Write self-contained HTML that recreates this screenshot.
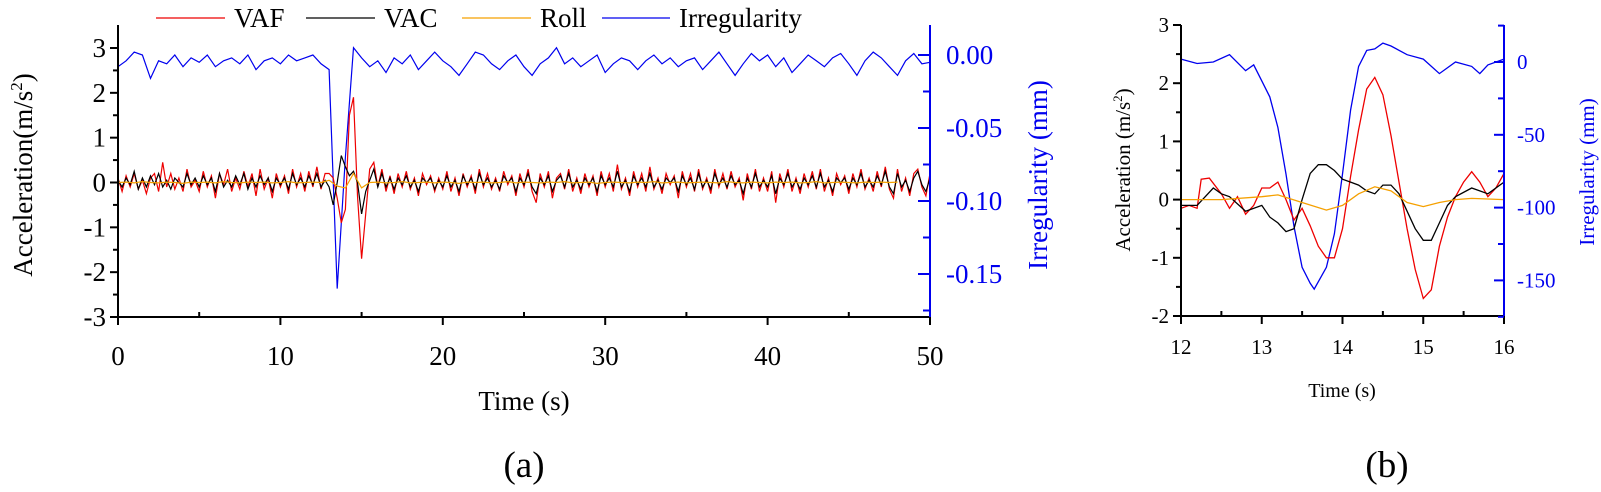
<!DOCTYPE html>
<html><head><meta charset="utf-8"><style>
html,body{margin:0;padding:0;background:#fff;}
svg{display:block;font-family:"Liberation Serif",serif;}
svg text{font-family:"Liberation Serif","Times New Roman",serif;}
</style></head><body>
<svg id="s" width="1601" height="492" viewBox="0 0 1601 492"></svg>
<script>
// ===== Chart (a) data =====
const aTickX=[0,10,20,30,40,50];
const aTickY=[3,2,1,0,-1,-2,-3];
const aTickR=["0.00","-0.05","-0.10","-0.15"];
const aTickRv=[0,-0.05,-0.10,-0.15];
const aVAF=[0.1,-0.2,0.15,-0.1,0.2,-0.15,0.05,-0.25,0.1,0.2,-0.2,0.45,-0.1,0.2,-0.15,0.1,-0.2,0.3,-0.1,0.05,
-0.2,0.25,-0.1,0.15,-0.35,0.2,-0.05,0.3,-0.2,0.1,-0.15,0.25,-0.1,0.2,-0.3,0.3,-0.15,0.1,-0.35,0.2,
-0.1,0.15,-0.25,0.3,-0.1,0.2,-0.2,0.25,-0.1,0.35,-0.15,0.2,
0.2,0.1,-0.35,-0.9,-0.6,1.5,1.9,-0.3,-1.7,-0.7,0.3,
0.45,-0.1,0.3,-0.2,0.15,-0.25,0.2,-0.1,0.25,-0.15,0.1,-0.3,0.2,-0.05,0.15,-0.2,0.1,
-0.15,0.25,-0.2,0.1,-0.3,0.2,-0.1,0.15,-0.25,0.3,-0.1,0.2,-0.15,0.1,-0.2,0.25,-0.05,0.15,-0.3,0.2,
-0.1,0.3,-0.2,-0.45,0.2,-0.1,0.25,-0.35,0.1,0.2,-0.15,0.3,-0.2,0.1,-0.25,0.2,-0.1,0.15,-0.3,0.25,
-0.1,0.2,-0.2,0.4,-0.15,0.1,-0.3,0.25,-0.1,0.2,-0.2,0.35,-0.15,0.1,-0.25,0.2,-0.05,0.15,-0.35,0.25,
-0.1,0.2,-0.2,0.3,-0.15,0.1,-0.25,0.3,-0.1,0.2,-0.15,0.25,-0.1,0.1,-0.4,0.2,-0.15,0.3,-0.2,0.1,
-0.2,0.25,-0.45,0.2,-0.1,0.3,-0.2,0.1,-0.25,0.2,-0.1,0.25,-0.15,0.3,-0.2,0.1,-0.3,0.2,-0.05,0.15,
-0.25,0.2,-0.1,0.3,-0.15,0.1,-0.2,0.25,-0.1,0.35,-0.15,-0.35,0.3,-0.2,0.1,-0.3,0.2,0.3,-0.1,-0.3,0.2];
const aVAC=[0.05,-0.1,0.1,-0.05,0.25,-0.15,0.1,-0.1,0.15,-0.05,0.2,-0.1,0.05,-0.15,0.1,0.0,-0.1,0.2,-0.05,0.1,
-0.1,0.15,-0.05,0.1,-0.2,0.2,-0.1,0.05,-0.1,0.15,-0.05,0.2,-0.15,0.1,-0.1,0.15,-0.05,0.1,-0.2,0.1,
-0.05,0.1,-0.15,0.2,-0.05,0.1,-0.1,0.15,-0.05,0.2,-0.1,0.05,
-0.1,-0.5,0.0,0.6,0.35,0.15,0.25,0.0,-0.7,-0.2,0.05,
0.3,-0.1,0.2,-0.1,0.1,-0.15,0.1,-0.05,0.15,-0.1,0.05,-0.2,0.1,0.0,0.1,-0.15,0.05,
-0.1,0.15,-0.1,0.05,-0.2,0.15,-0.05,0.1,-0.15,0.2,-0.05,0.1,-0.1,0.05,-0.15,0.15,0.0,0.1,-0.2,0.1,
-0.05,0.2,-0.1,-0.25,0.1,-0.05,0.15,-0.2,0.05,0.15,-0.1,0.2,-0.1,0.05,-0.15,0.1,-0.05,0.1,-0.2,0.15,
-0.05,0.1,-0.1,0.25,-0.1,0.05,-0.2,0.15,-0.05,0.1,-0.1,0.2,-0.1,0.05,-0.15,0.1,0.0,0.1,-0.2,0.15,
-0.05,0.1,-0.15,0.2,-0.1,0.05,-0.15,0.2,-0.05,0.1,-0.1,0.15,-0.05,0.05,-0.25,0.1,-0.1,0.2,-0.1,0.05,
-0.1,0.15,-0.25,0.1,-0.05,0.2,-0.1,0.05,-0.15,0.1,-0.05,0.15,-0.1,0.2,-0.1,0.05,-0.2,0.1,0.0,0.1,
-0.15,0.1,-0.05,0.2,-0.1,0.05,-0.1,0.15,-0.05,0.25,-0.1,-0.25,0.2,-0.1,0.05,-0.2,0.1,0.25,-0.05,-0.2,0.1];
const aRoll=[0,0.01,-0.01,0.02,0,-0.01,0.01,0,-0.02,0.01,0,0.01,-0.01,0.02,0,-0.01,0.01,0,0.01,-0.01,0,0.02,-0.01,0,0.01,0,
0.05,-0.08,-0.12,0.2,-0.12,0.0,
0.01,-0.01,0,0.02,-0.01,0,0.01,-0.01,0.01,0,-0.02,0.01,0,0.01,-0.01,0,0.02,-0.01,0.01,0,
-0.01,0.01,0,0.02,-0.01,0,0.01,-0.02,0,0.01,0,-0.01,0.01,0,0.02,-0.01,0,0.01,-0.01,0,
0.01,0,-0.01,0.02,0,-0.01,0.01,0,-0.01,0.01,0,0.01,-0.01,0,0.02,-0.01,0,0.01,0,-0.01,0.01,0.0,0.01,0,0.01];
const aIrr=[-0.008,-0.004,0.002,0.0,-0.016,-0.004,-0.006,0.0,-0.008,-0.002,-0.005,0.0,-0.008,-0.004,-0.002,-0.006,0.0,-0.01,-0.004,-0.002,-0.006,0.0,-0.004,-0.002,0.0,-0.006,
-0.01,-0.16,-0.07,0.005,-0.002,
-0.008,-0.004,-0.012,-0.002,-0.006,0.0,-0.01,-0.004,0.002,-0.004,-0.008,-0.014,-0.006,0.002,0.0,-0.006,-0.01,-0.004,0.0,-0.008,
-0.014,-0.006,-0.002,0.005,-0.006,-0.002,-0.008,-0.004,0.0,-0.012,-0.006,-0.002,-0.004,-0.01,-0.004,0.0,-0.006,-0.002,-0.008,-0.004,
-0.002,-0.01,-0.004,0.002,-0.006,-0.014,-0.006,0.001,-0.004,0.0,-0.008,-0.002,-0.012,-0.006,0.0,-0.004,-0.008,-0.002,0.001,-0.006,
-0.014,-0.004,0.002,-0.002,-0.008,-0.014,-0.004,0.001,-0.006,-0.005];
// ===== Chart (b) data =====
const bTickX=[12,13,14,15,16];
const bTickY=[3,2,1,0,-1,-2];
const bTickR=[0,-50,-100,-150];
const bIrrT=[12,12.2,12.4,12.6,12.8,12.9,13.0,13.1,13.2,13.3,13.4,13.5,13.6,13.65,13.8,13.9,14.0,14.1,14.2,14.3,14.4,14.5,14.6,14.8,15.0,15.2,15.4,15.6,15.7,15.8,16];
const bIrrV=[2,-1,0,5,-6,-2,-13,-24,-45,-77,-113,-141,-152,-156,-141,-118,-77,-33,-3,8,9,13,11,5,2,-8,0,-3,-8,-2,2];
const bVAFT=[12,12.1,12.2,12.25,12.35,12.5,12.6,12.7,12.8,12.9,13.0,13.1,13.2,13.3,13.4,13.5,13.6,13.7,13.8,13.9,14.0,14.1,14.2,14.3,14.4,14.5,14.6,14.7,14.8,14.9,15.0,15.1,15.2,15.3,15.4,15.5,15.6,15.7,15.8,15.9,16];
const bVAFV=[-0.15,-0.1,-0.15,0.35,0.37,0.1,-0.15,0.05,-0.25,-0.1,0.2,0.2,0.3,0.0,-0.35,-0.15,-0.45,-0.8,-1.0,-1.0,-0.5,0.4,1.2,1.9,2.1,1.8,1.1,0.3,-0.5,-1.2,-1.7,-1.55,-0.8,-0.3,0.05,0.3,0.48,0.3,0.05,0.2,0.45];
const bVACT=[12,12.2,12.4,12.5,12.6,12.8,13.0,13.1,13.2,13.3,13.4,13.5,13.6,13.7,13.8,13.9,14.0,14.1,14.2,14.3,14.4,14.5,14.6,14.7,14.8,14.9,15.0,15.1,15.2,15.3,15.4,15.6,15.7,15.8,16];
const bVACV=[-0.1,-0.1,0.2,0.1,0.05,-0.2,-0.1,-0.3,-0.4,-0.55,-0.5,0.0,0.45,0.6,0.6,0.5,0.35,0.3,0.25,0.15,0.1,0.25,0.25,0.1,-0.2,-0.5,-0.7,-0.7,-0.4,-0.1,0.05,0.2,0.15,0.1,0.3];
const bRollT=[12,12.5,13,13.2,13.5,13.8,14.0,14.2,14.4,14.6,14.8,15.0,15.2,15.4,15.6,16];
const bRollV=[0,0,0.05,0.08,-0.05,-0.18,-0.1,0.1,0.22,0.15,-0.05,-0.12,-0.05,0.0,0.02,0];

const NS="http://www.w3.org/2000/svg";
const svg=document.getElementById('s');
function el(tag,attrs,parent){const e=document.createElementNS(NS,tag);for(const k in attrs)e.setAttribute(k,attrs[k]);(parent||svg).appendChild(e);return e;}
function txt(str,attrs,parent){attrs['font-family']='Liberation Serif, serif';const e=el('text',attrs,parent);e.textContent=str;return e;}
function pathFrom(ts,vs,fx,fy){let d='';for(let i=0;i<vs.length;i++){d+=(i?'L':'M')+fx(ts[i]).toFixed(1)+' '+fy(vs[i]).toFixed(1);}return d;}

// ---- Chart A scales
const AX0=118,AX1=930,AYT=48,AYB=317;
const ax=t=>AX0+(t-0)/50*(AX1-AX0);
const ay=v=>AYT+(3-v)/6*(AYB-AYT);
const ar=v=>55+(-v)/0.05*73;
const gA=el('g',{});


function grid(n,step){const a=[];for(let i=0;i<n;i++)a.push(i*step);return a;}
const tA25=grid(aVAF.length,0.25), tA5=grid(aIrr.length,0.5), tAR=grid(aRoll.length,0.5);
let p;
p=el('path',{d:pathFrom(tA5,aIrr,ax,ar),fill:'none',stroke:'#0000ee','stroke-width':1.2},gA);

p=el('path',{d:pathFrom(tA25,aVAF,ax,ay),fill:'none',stroke:'#ee0000','stroke-width':1.2},gA);

p=el('path',{d:pathFrom(tA25,aVAC,ax,ay),fill:'none',stroke:'#000','stroke-width':1.2},gA);

p=el('path',{d:pathFrom(tAR,aRoll,ax,ay),fill:'none',stroke:'#f5a000','stroke-width':1.2},gA);

// axes
el('line',{x1:AX0,y1:25,x2:AX0,y2:AYB,stroke:'#000','stroke-width':2},gA);
el('line',{x1:AX0-8,y1:AYB,x2:AX1,y2:AYB,stroke:'#000','stroke-width':2},gA);
el('line',{x1:AX1,y1:25,x2:AX1,y2:AYB+8,stroke:'#0000ee','stroke-width':2},gA);
aTickY.forEach(v=>{el('line',{x1:AX0-8,y1:ay(v),x2:AX0,y2:ay(v),stroke:'#000','stroke-width':2},gA);
 const t=txt(String(v),{x:AX0-12,y:ay(v)+9,'font-size':27,'text-anchor':'end'},gA);
 
 if(v>-3)el('line',{x1:AX0-5,y1:ay(v-0.5),x2:AX0,y2:ay(v-0.5),stroke:'#000','stroke-width':2},gA);});
aTickX.forEach(v=>{el('line',{x1:ax(v),y1:AYB,x2:ax(v),y2:AYB+8,stroke:'#000','stroke-width':2},gA);
 const t=txt(String(v),{x:ax(v),y:365,'font-size':27,'text-anchor':'middle'},gA);
 
 if(v<50)el('line',{x1:ax(v+5),y1:AYB,x2:ax(v+5),y2:AYB-5,stroke:'#000','stroke-width':2},gA);});
aTickRv.forEach((v,i)=>{el('line',{x1:AX1-12,y1:ar(v),x2:AX1,y2:ar(v),stroke:'#0000ee','stroke-width':2},gA);
 el('line',{x1:AX1-7,y1:ar(v-0.025),x2:AX1,y2:ar(v-0.025),stroke:'#0000ee','stroke-width':2},gA);
 const t=txt(aTickR[i],{x:946,y:ar(v)+9,'font-size':27,fill:'#0000ee'},gA);
 });
let t;
t=txt('Acceleration(m/s',{transform:'translate(32,175) rotate(-90)','font-size':27,'text-anchor':'middle'},gA);

const sup=el('tspan',{'font-size':17,dy:-10},t);sup.textContent='2';
const cl=el('tspan',{dy:10},t);cl.textContent=')';
t=txt('Irregularity (mm)',{transform:'translate(1047,175) rotate(-90)','font-size':27,'text-anchor':'middle',fill:'#0000ee'},gA);

t=txt('Time (s)',{x:524,y:410,'font-size':27,'text-anchor':'middle'},gA);

t=txt('(a)',{x:524,y:477,'font-size':37,'text-anchor':'middle'},gA);

// legend
const lg=el('g',{},gA);

[[156,225,234,'VAF','#ee0000'],[306,375,384,'VAC','#000'],[462,531,540,'Roll','#f5a000'],[602,670,679,'Irregularity','#0000ee']].forEach(e=>{
 const g=el('g',{},lg);
 
 
 el('line',{x1:e[0],y1:18,x2:e[1],y2:18,stroke:e[4],'stroke-width':1.3},g);
 txt(e[3],{x:e[2],y:27,'font-size':27},g);});

// ---- Chart B
const BX0=1181,BX1=1504,BYT=25,BYB=316;
const bx=t=>BX0+(t-12)/4*(BX1-BX0);
const by=v=>BYT+(3-v)/5*(BYB-BYT);
const br=v=>62-v/50*72.8;
const gB=el('g',{});


p=el('path',{d:pathFrom(bIrrT,bIrrV,bx,br),fill:'none',stroke:'#0000ee','stroke-width':1.3},gB);

p=el('path',{d:pathFrom(bVAFT,bVAFV,bx,by),fill:'none',stroke:'#ee0000','stroke-width':1.3},gB);

p=el('path',{d:pathFrom(bVACT,bVACV,bx,by),fill:'none',stroke:'#000','stroke-width':1.3},gB);

p=el('path',{d:pathFrom(bRollT,bRollV,bx,by),fill:'none',stroke:'#f5a000','stroke-width':1.3},gB);

el('line',{x1:BX0,y1:BYT,x2:BX0,y2:BYB+8,stroke:'#000','stroke-width':2},gB);
el('line',{x1:BX0-8,y1:BYB,x2:BX1,y2:BYB,stroke:'#000','stroke-width':2},gB);
el('line',{x1:BX1,y1:BYT,x2:BX1,y2:BYB+8,stroke:'#0000ee','stroke-width':2},gB);
bTickY.forEach(v=>{el('line',{x1:BX0-8,y1:by(v),x2:BX0,y2:by(v),stroke:'#000','stroke-width':2},gB);
 if(v>-2)el('line',{x1:BX0-5,y1:by(v-0.5),x2:BX0,y2:by(v-0.5),stroke:'#000','stroke-width':2},gB);
 const t=txt(String(v),{x:BX0-12,y:by(v)+7,'font-size':21,'text-anchor':'end'},gB);
 });
bTickX.forEach(v=>{el('line',{x1:bx(v),y1:BYB,x2:bx(v),y2:BYB+8,stroke:'#000','stroke-width':2},gB);
 if(v<16)el('line',{x1:bx(v+0.5),y1:BYB,x2:bx(v+0.5),y2:BYB-5,stroke:'#000','stroke-width':2},gB);
 const t=txt(String(v),{x:bx(v),y:354,'font-size':21,'text-anchor':'middle'},gB);
 });
bTickR.forEach(v=>{el('line',{x1:BX1-10,y1:br(v),x2:BX1,y2:br(v),stroke:'#0000ee','stroke-width':2},gB);
 el('line',{x1:BX1-6,y1:br(v-25),x2:BX1,y2:br(v-25),stroke:'#0000ee','stroke-width':2},gB);
 const t=txt(String(v),{x:1517,y:br(v)+7,'font-size':21,fill:'#0000ee'},gB);
 });
el('line',{x1:BX1-6,y1:br(25),x2:BX1,y2:br(25),stroke:'#0000ee','stroke-width':2},gB);
t=txt('Acceleration (m/s',{transform:'translate(1130,170) rotate(-90)','font-size':21,'text-anchor':'middle'},gB);

const sb=el('tspan',{'font-size':13,dy:-8},t);sb.textContent='2';
const cb=el('tspan',{dy:8},t);cb.textContent=')';
t=txt('Irregularity (mm)',{transform:'translate(1594,172) rotate(-90)','font-size':21,'text-anchor':'middle',fill:'#0000ee'},gB);

t=txt('Time (s)',{x:1342,y:397,'font-size':20,'text-anchor':'middle'},gB);

t=txt('(b)',{x:1387,y:477,'font-size':37,'text-anchor':'middle'},gB);

</script>
</body></html>
